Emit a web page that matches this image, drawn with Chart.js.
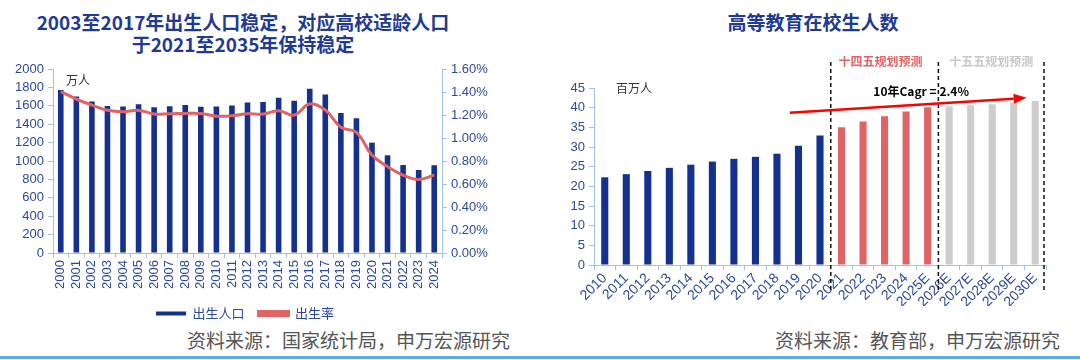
<!DOCTYPE html>
<html><head><meta charset="utf-8">
<script src="https://cdn.jsdelivr.net/npm/chart.js@4/dist/chart.umd.min.js"></script>
<style>
html,body{margin:0;padding:0;background:#fff;width:1080px;height:360px;overflow:hidden;position:relative;font-family:"Noto Sans CJK SC","Noto Sans",sans-serif;}
.title{position:absolute;color:#1f3a93;font-weight:bold;font-size:19px;line-height:22px;text-align:center;white-space:nowrap;}
.src{position:absolute;color:#555;font-size:19px;white-space:nowrap;top:326px;}
.cv{position:absolute;}
#bar{position:absolute;left:0;top:356px;width:1080px;height:3px;background:#5aaee0;}
</style></head>
<body>
<div class="title" style="left:0;width:486px;top:11px;">2003至2017年出生人口稳定，对应高校适龄人口<br>于2021至2035年保持稳定</div>
<div class="title" style="left:560px;width:506px;top:11px;">高等教育在校生人数</div>
<div class="src" style="left:187px;">资料来源：国家统计局，申万宏源研究</div>
<div class="src" style="left:775px;">资料来源：教育部，申万宏源研究</div>
<div id="bar"></div>
<div class="cv" style="left:0;top:56px;width:490px;height:278px;"><canvas id="c1"></canvas></div>
<div class="cv" style="left:560px;top:56px;width:510px;height:250px;"><canvas id="c2"></canvas></div>
<script>
// ---- Left chart data ----
const birthYears = ["2000","2001","2002","2003","2004","2005","2006","2007","2008","2009","2010","2011","2012","2013","2014","2015","2016","2017","2018","2019","2020","2021","2022","2023","2024"];
const birthPop = [1771,1702,1647,1599,1593,1617,1584,1594,1608,1591,1592,1604,1635,1640,1687,1655,1786,1723,1523,1465,1200,1062,956,902,954];
const birthRate = [1.403,1.338,1.286,1.241,1.229,1.240,1.209,1.210,1.214,1.213,1.190,1.193,1.210,1.208,1.237,1.199,1.295,1.243,1.094,1.048,0.852,0.752,0.677,0.639,0.677];
// ---- Right chart data ----
const eduYears = ["2010","2011","2012","2013","2014","2015","2016","2017","2018","2019","2020","2021","2022","2023","2024","2025E","2026E","2027E","2028E","2029E","2030E"];
const eduActual = [22.3,23.1,23.9,24.7,25.5,26.3,27.0,27.5,28.3,30.3,32.9,null,null,null,null,null,null,null,null,null,null];
const eduPlan14 = [null,null,null,null,null,null,null,null,null,null,null,35.0,36.5,37.8,39.0,40.1,null,null,null,null,null];
const eduPlan15 = [null,null,null,null,null,null,null,null,null,null,null,null,null,null,null,null,40.3,40.6,40.9,41.3,41.7];

const BLUE = '#15318f', RED = '#e06464', GRAY = '#cdcdcd', AX = '#9dc3e6', TICK = '#2b4a9b';
const tickFont = {family:'"Liberation Sans", Arial, sans-serif', size:13};

const unitLabel = (txt, dx, dy) => ({
  id:'unit', afterDraw(chart){
    const ctx = chart.ctx, a = chart.chartArea;
    ctx.save(); ctx.fillStyle='#333'; ctx.font='12px "Noto Sans CJK SC"';
    ctx.textBaseline='middle'; ctx.fillText(txt, a.left+dx, a.top+dy); ctx.restore();
  }
});

new Chart(document.getElementById('c1'), {
  type:'bar',
  data:{labels:birthYears, datasets:[
    {type:'bar', label:'出生人口', data:birthPop, backgroundColor:BLUE, yAxisID:'y', barPercentage:0.36, categoryPercentage:1, order:1},
    {type:'line', label:'出生率', data:birthRate, borderColor:RED, backgroundColor:RED, borderWidth:3, pointRadius:0, tension:0.4, yAxisID:'y1', order:0}
  ]},
  options:{
    responsive:true, maintainAspectRatio:false, animation:false,
    layout:{padding:{top:13,bottom:4,left:0,right:0}},
    plugins:{
      legend:{position:'bottom', labels:{boxWidth:30, boxHeight:4, color:'#2b4a9b', font:{family:'"Noto Sans CJK SC"', size:13}, padding:14, sort:(a,b)=>a.datasetIndex-b.datasetIndex}},
      tooltip:{enabled:false}
    },
    scales:{
      x:{grid:{display:true, drawOnChartArea:false, color:AX, tickLength:5}, border:{color:AX},
         ticks:{color:TICK, font:tickFont, minRotation:90, maxRotation:90, autoSkip:false, padding:2},
         afterFit(s){s.height=40;}},
      y:{position:'left', min:0, max:2000, ticks:{stepSize:200, autoSkip:false, color:TICK, font:tickFont, padding:4, callback:v=>String(v)},
         grid:{display:true, drawOnChartArea:false, color:AX, tickLength:5}, border:{color:AX},
         afterFit(s){s.width=53;}},
      y1:{position:'right', min:0, max:1.6, ticks:{stepSize:0.2, autoSkip:false, color:TICK, font:tickFont, padding:4, callback:v=>v.toFixed(2)+'%'},
         grid:{display:true, drawOnChartArea:false, color:AX, tickLength:5}, border:{color:AX},
         afterFit(s){s.width=48;}}
    }
  },
  plugins:[unitLabel('万人', 13, 11)]
});

const annot = {
  id:'annot', afterDraw(chart){
    const ctx = chart.ctx, x = chart.scales.x, y = chart.scales.y, a = chart.chartArea;
    const step = x.getPixelForValue(1) - x.getPixelForValue(0);
    const b1 = x.getPixelForValue(10) + step/2, b2 = x.getPixelForValue(15) + step/2, b3 = x.getPixelForValue(20) + step/2 - 2;
    ctx.save();
    ctx.strokeStyle='#111'; ctx.lineWidth=1.5; ctx.setLineDash([4,3]);
    [b1,b2,b3].forEach(bx=>{ctx.beginPath(); ctx.moveTo(bx, 6); ctx.lineTo(bx, a.bottom+26); ctx.stroke();});
    ctx.setLineDash([]);
    ctx.font='bold 12px "Noto Sans CJK SC"'; ctx.textAlign='center'; ctx.textBaseline='middle';
    ctx.fillStyle=RED; ctx.fillText('十四五规划预测', (b1+b2)/2 - 4, 5);
    ctx.fillStyle='#c8c8c8'; ctx.fillText('十五五规划预测', (b2+b3)/2, 5);
    // arrow
    const x0 = x.getPixelForValue(8.6), y0 = y.getPixelForValue(38.7);
    const x1 = x.getPixelForValue(19.6), y1 = y.getPixelForValue(42.5);
    ctx.strokeStyle='#ff0000'; ctx.fillStyle='#ff0000'; ctx.lineWidth=2.5;
    const ang = Math.atan2(y1-y0, x1-x0), L=13, W=5;
    const xe = x1 - L*Math.cos(ang), ye = y1 - L*Math.sin(ang);
    ctx.beginPath(); ctx.moveTo(x0,y0); ctx.lineTo(xe,ye); ctx.stroke();
    ctx.beginPath(); ctx.moveTo(x1,y1);
    ctx.lineTo(xe + W*Math.sin(ang), ye - W*Math.cos(ang));
    ctx.lineTo(xe - W*Math.sin(ang), ye + W*Math.cos(ang)); ctx.closePath(); ctx.fill();
    ctx.fillStyle='#000'; ctx.font='bold 12px "Noto Sans CJK SC"';
    ctx.fillText('10年Cagr = 2.4%', x.getPixelForValue(14.7), y.getPixelForValue(44.2));
    ctx.restore();
  }
};

new Chart(document.getElementById('c2'), {
  type:'bar',
  data:{labels:eduYears, datasets:[
    {label:'实际', data:eduActual, backgroundColor:BLUE, barPercentage:0.33, categoryPercentage:1},
    {label:'十四五', data:eduPlan14, backgroundColor:RED, barPercentage:0.33, categoryPercentage:1},
    {label:'十五五', data:eduPlan15, backgroundColor:GRAY, barPercentage:0.33, categoryPercentage:1}
  ]},
  options:{
    responsive:true, maintainAspectRatio:false, animation:false,
    layout:{padding:{top:32,bottom:0,left:0,right:24}},
    plugins:{legend:{display:false}, tooltip:{enabled:false}},
    scales:{
      x:{stacked:true, grid:{display:true, drawOnChartArea:false, color:AX, tickLength:5}, border:{color:AX},
         ticks:{color:TICK, font:{family:'"Liberation Sans", Arial, sans-serif', size:14}, minRotation:45, maxRotation:45, autoSkip:false, padding:0},
         afterFit(s){s.height=41;}},
      y:{stacked:true, min:0, max:45, ticks:{stepSize:5, autoSkip:false, color:TICK, font:tickFont, padding:4},
         grid:{display:true, drawOnChartArea:false, color:AX, tickLength:5}, border:{color:AX},
         afterFit(s){s.width=34;}}
    }
  },
  plugins:[annot, unitLabel('百万人', 22, 0)]
});
</script>
</body></html>
